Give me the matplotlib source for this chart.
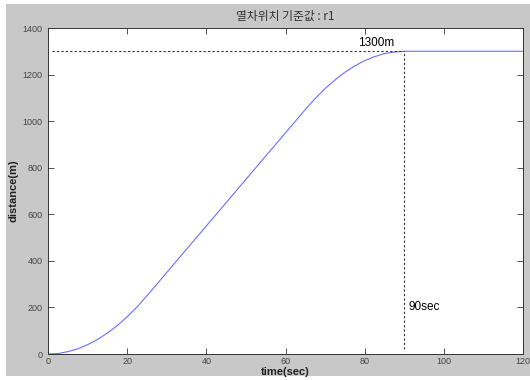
import matplotlib
matplotlib.use('Agg')
import matplotlib.pyplot as plt
from matplotlib.patches import Rectangle

plt.rcParams['font.family'] = ['Liberation Sans', 'Noto Sans CJK KR', 'DejaVu Sans']

# reference train position, read every 2.5 s
t = [0, 2.5, 5, 7.5, 10, 12.5, 15, 17.5, 20, 22.5, 25,
     30, 40, 50, 60, 65,
     67.5, 70, 72.5, 75, 77.5, 80, 82.5, 85, 87.5, 90, 120]
dist = [0, 2, 10, 22, 40, 62, 90, 122, 160, 202, 250,
        350, 550, 750, 950, 1050,
        1097, 1140, 1177, 1210, 1237, 1260, 1277, 1290, 1297, 1300, 1300]

target_dist = 1300
target_time = 90
xticks = [0, 20, 40, 60, 80, 100, 120]
yticks = [0, 200, 400, 600, 800, 1000, 1200, 1400]

fig = plt.figure(figsize=(5.3, 3.8), dpi=100)
fig.patch.set_facecolor('white')
fig.patches.append(Rectangle((6 / 530, 4 / 380), 1 - 6 / 530, 372 / 380,
                             transform=fig.transFigure, facecolor='#c8c8c8',
                             edgecolor='none', zorder=-10))

ax = fig.add_axes([48 / 530, 26 / 380, 475 / 530, 326 / 380])
ax.set_facecolor('white')

ax.plot(t, dist, color='#6e6eff', lw=0.8)
ax.plot([1, target_time], [target_dist, target_dist], color='#333333',
        lw=0.8, ls=(0, (2, 2)))
ax.plot([target_time, target_time], [20, target_dist], color='#333333',
        lw=0.8, ls=(0, (2, 2)))

ax.text(78.3, 1335, '1300m', fontsize=8.5, ha='left', va='center')
ax.text(91, 200, '90sec', fontsize=8.5, ha='left', va='center')

ax.set_xlim(0, 120)
ax.set_ylim(0, 1400)
ax.set_xticks(xticks)
ax.set_yticks(yticks)
ax.tick_params(direction='in', length=4, width=0.6, top=True, right=True,
               labelsize=6.5, labelcolor='#444444', color='#333333', pad=4)
ax.tick_params(axis='x', pad=2.5)
for s in ax.spines.values():
    s.set_linewidth(0.7)
    s.set_color('#333333')

ax.set_xlabel('time(sec)', fontsize=8, fontweight='bold', color='#222222')
ax.set_ylabel('distance(m)', fontsize=8, fontweight='bold', color='#222222')
ax.xaxis.set_label_coords(0.5, -0.04)
ax.yaxis.set_label_coords(-0.063, 0.5)
ax.set_title('열차위치 기준값 : r1', fontsize=8.5, color='#333333', pad=6,
             family=['Noto Sans CJK KR', 'DejaVu Sans'])

fig.savefig('out.png', dpi=100)
